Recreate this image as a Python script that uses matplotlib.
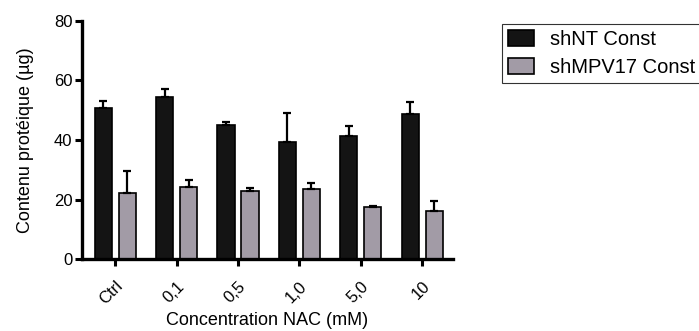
import numpy as np
import matplotlib
matplotlib.use("Agg")
import matplotlib.pyplot as plt

plt.rcParams['font.family'] = ['Liberation Sans', 'DejaVu Sans']

categories = ["Ctrl", "0,1", "0,5", "1,0", "5,0", "10"]
shnt_vals = [50.9, 54.5, 45.1, 39.4, 41.3, 48.7]
shnt_err = [2.2, 2.6, 0.8, 9.6, 3.5, 4.2]
shmpv_vals = [22.1, 24.1, 23.0, 23.6, 17.6, 16.2]
shmpv_err = [7.6, 2.5, 1.0, 2.0, 0.2, 3.4]

fig = plt.figure(figsize=(6.99, 3.31), dpi=100)
ax = fig.add_axes([0.1173, 0.2175, 0.5307, 0.7191])

x = np.arange(len(categories))
w = 0.28
off = 0.195
ax.bar(x - off, shnt_vals, w, color='#141414', edgecolor='black', linewidth=1.2,
       yerr=[np.zeros(len(x)), shnt_err], capsize=3,
       error_kw=dict(ecolor='black', elinewidth=1.6, capthick=1.6),
       label='shNT Const', zorder=2)
ax.bar(x + off, shmpv_vals, w, color='#a29ba6', edgecolor='black', linewidth=1.2,
       yerr=[np.zeros(len(x)), shmpv_err], capsize=3,
       error_kw=dict(ecolor='black', elinewidth=1.6, capthick=1.6),
       label='shMPV17 Const', zorder=2)

ax.set_xlim(-0.54, 5.5)
ax.set_ylim(0, 80)
ax.set_yticks([0, 20, 40, 60, 80])
ax.set_xticks(x)
ax.set_xticklabels(categories, rotation=45, ha='right', rotation_mode='anchor')
ax.tick_params(axis='both', labelsize=12, width=2.2, length=5, color='black')
ax.tick_params(axis='y', pad=2)
ax.tick_params(axis='x', pad=9)

for s in ['top', 'right']:
    ax.spines[s].set_visible(False)
for s in ['left', 'bottom']:
    ax.spines[s].set_linewidth(2.4)

ax.set_ylabel("Contenu protéique (µg)", fontsize=13, labelpad=14)
ax.set_xlabel("Concentration NAC (mM)", fontsize=13, labelpad=3)

leg = fig.legend(loc='upper left', bbox_to_anchor=(502 / 699, 1 - 24 / 331),
                 fontsize=14.5, frameon=True, fancybox=False, handlelength=1.3,
                 handleheight=0.8, borderpad=0.3, labelspacing=0.45,
                 handletextpad=0.8, borderaxespad=0)
leg.get_frame().set_edgecolor('black')
leg.get_frame().set_linewidth(0.8)

fig.savefig("out.png", dpi=100)
